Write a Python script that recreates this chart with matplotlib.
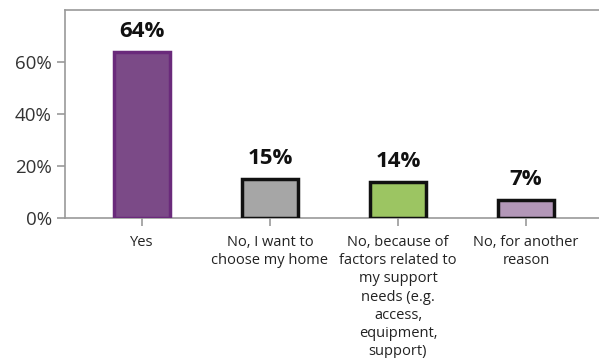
import matplotlib.pyplot as plt
import matplotlib.ticker as ticker

categorias = ["Yes", "No, I want to\nchoose my home",
              "No, because of\nfactors related to\nmy support\nneeds (e.g.\naccess,\nequipment,\nsupport)",
              "No, for another\nreason"]
valores = [64, 15, 14, 7]
cores = ["#7b4a87", "#a6a6a6", "#9cc562", "#b397b8"]
bordas = ["#6a2a7b", "#111111", "#111111", "#111111"]

plt.rcParams["font.family"] = ["Open Sans", "DejaVu Sans"]

fig = plt.figure(figsize=(5.99, 3.58), dpi=100)
ax = fig.add_axes([0.1085, 0.391, 0.8915, 0.581])

x = range(len(valores))
ax.bar(x, valores, width=0.44, color=cores, edgecolor=bordas, linewidth=2.5, zorder=3)

for i, v in enumerate(valores):
    ax.annotate(f"{v}%", (i, v), textcoords="offset points", xytext=(0, 7),
                ha="center", va="bottom", fontsize=16, fontweight="bold", color="#111111")

ax.set_xlim(-0.6, 3.57)
ax.set_ylim(0, 80)
ax.set_yticks([0, 20, 40, 60])
ax.yaxis.set_major_formatter(ticker.FuncFormatter(lambda v, p: f"{v:.0f}%"))
ax.set_xticks(list(x))
ax.set_xticklabels(categorias, fontsize=10.5, color="#222222", linespacing=1.3)

for lado in ["left", "top", "bottom"]:
    ax.spines[lado].set_color("#9a9a9a")
    ax.spines[lado].set_linewidth(1.2)
ax.spines["right"].set_visible(False)

ax.tick_params(axis="y", labelsize=13.5, colors="#9a9a9a", labelcolor="#333333", length=6, width=1.2)
ax.tick_params(axis="x", colors="#9a9a9a", labelcolor="#222222", length=6, width=1.2, pad=6)

fig.savefig("out.png", dpi=100)
